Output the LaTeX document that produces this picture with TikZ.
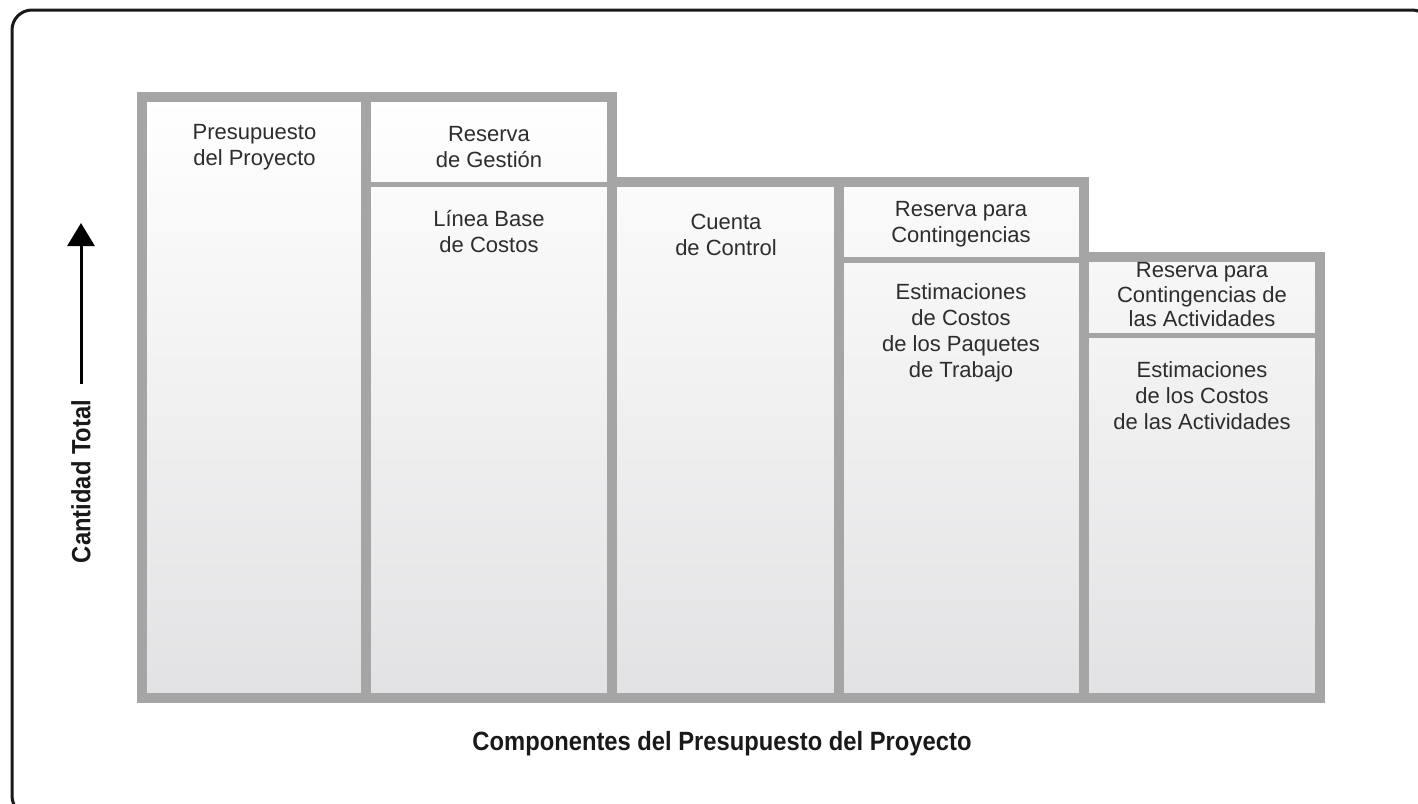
\documentclass[tikz,border=0pt]{standalone}
\usepackage{fontspec}
\setmainfont{Liberation Sans}
\newfontfamily\axisfont{Liberation Sans}[FakeStretch=0.9]
\usetikzlibrary{arrows.meta}

\definecolor{bargray}{RGB}{165,165,165}
\definecolor{textgray}{RGB}{45,45,45}
\definecolor{fadegray}{RGB}{226,226,228}

\tikzset{
  bar/.style={draw=bargray, line width=5pt},
  split/.style={draw=bargray, line width=2.75pt},
  cell/.style={anchor=north, align=center, inner sep=0pt, text=textgray,
    font=\fontsize{11}{13}\selectfont},
  tight cell/.style={cell, font=\fontsize{11}{12.25}\selectfont},
  axis label/.style={inner sep=0pt, text=black!90,
    font=\axisfont\bfseries\fontsize{13.2}{15}\selectfont},
}

\begin{document}
\begin{tikzpicture}[x=0.5pt, y=-0.5pt]
\useasboundingbox (0,0) rectangle (1418,803);

% Frame
\draw[line width=1.5pt, rounded corners=10pt, black!90] (12,10) rectangle (1432,816);

% Budget blocks
\shade[top color=white, middle color=white!96!black, bottom color=fadegray]
  (142,698) -- (142,97) -- (612,97) -- (612,182) -- (1084,182) -- (1084,257)
  -- (1320,257) -- (1320,698) -- cycle;
\draw[split]
  (366,184.5) -- (612,184.5)
  (839,260) -- (1084,260)
  (1084,335.5) -- (1320,335.5);
\draw[bar]
  (366,97) -- (366,698)
  (612,182) -- (612,698)
  (839,182) -- (839,698)
  (1084,257) -- (1084,698);
\draw[bar, line join=miter]
  (142,698) -- (142,97) -- (612,97) -- (612,182) -- (1084,182) -- (1084,257)
  -- (1320,257) -- (1320,698) -- cycle;

% Define nodes
\path
  (254.5,124) node[cell] (budget) {Presupuesto\\del Proyecto}
  (489,126) node[cell] (mgmt) {Reserva\\de Gestión}
  (489,210) node[cell] (baseline) {Línea Base\\de Costos}
  (726,214) node[cell] (account) {Cuenta\\de Control}
  (961,201) node[cell] (contres) {Reserva para\\Contingencias}
  (961,283) node[cell] (wpest) {Estimaciones\\de Costos\\de los Paquetes\\de Trabajo}
  (1202,262) node[tight cell] (actres) {Reserva para\\Contingencias de\\las Actividades}
  (1202,361) node[cell] (actest) {Estimaciones\\de los Costos\\de las Actividades}
;

% Axes
\node[axis label, rotate=90] (total) at (81,481.5) {Cantidad Total};
\coordinate (tip) at (81,223);
\draw[line width=1.5pt, shorten <=7.5pt, -{Triangle[width=13.5pt, length=11.5pt]}]
  (total.east) -- (tip);
\node[axis label, anchor=base] (parts) at (722,750) {Componentes del Presupuesto del Proyecto};

\end{tikzpicture}
\end{document}
